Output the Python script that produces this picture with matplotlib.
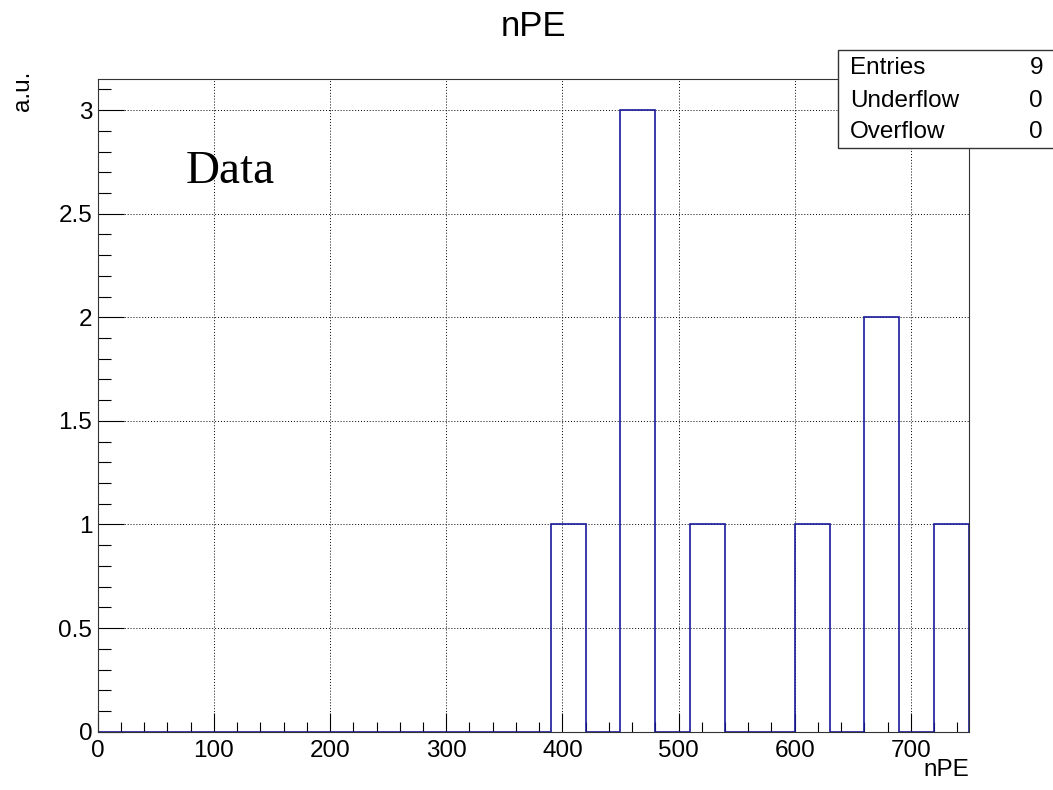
import numpy as np
import matplotlib
matplotlib.use("Agg")
import matplotlib.pyplot as plt
from matplotlib.ticker import MultipleLocator

# histogram content, 25 bins of width 30 from 0 to 750
x_min, x_max, bin_width = 0, 750, 30
counts = [0, 0, 0, 0, 0, 0, 0, 0, 0, 0, 0, 0, 0,
          1, 0, 3, 0, 1, 0, 0, 1, 0, 2, 0, 1]
stat_names = ["Entries", "Underflow", "Overflow"]
stat_values = [sum(counts), 0, 0]

edges = np.arange(x_min, x_max + 1, bin_width)

plt.rcParams["font.family"] = ["Liberation Sans", "DejaVu Sans"]

fig = plt.figure(figsize=(10.53, 7.9), dpi=100)
ax = fig.add_axes([0.0928, 0.0738, 0.8274, 0.8262])

ax.stairs(counts, edges, color="#1a1a9c", linewidth=1.2)

ax.set_xlim(x_min, x_max)
ax.set_ylim(0, 1.05 * max(counts))

ax.xaxis.set_major_locator(MultipleLocator(100))
ax.xaxis.set_minor_locator(MultipleLocator(20))
ax.yaxis.set_major_locator(MultipleLocator(0.5))
ax.yaxis.set_minor_locator(MultipleLocator(0.1))
ax.yaxis.set_major_formatter(lambda v, p: f"{v:g}")

ax.tick_params(axis="x", which="major", direction="in", length=13.7, width=0.8,
               labelsize=17.5, pad=6)
ax.tick_params(axis="x", which="minor", direction="in", length=6.9, width=0.8)
ax.tick_params(axis="y", which="major", direction="in", length=18.7, width=0.8,
               labelsize=17.5, pad=4)
ax.tick_params(axis="y", which="minor", direction="in", length=9.4, width=0.8)

for s in ax.spines.values():
    s.set_linewidth(0.8)
    s.set_color("#333333")

ax.grid(True, which="major", linestyle=(0, (1, 2)), color="black", linewidth=0.7)
ax.set_axisbelow(True)

fig.text(0.507, 0.967, "nPE", ha="center", va="center", fontsize=25)
fig.text(0.92, 0.025, "nPE", ha="right", va="center", fontsize=17.5)
fig.text(0.022, 0.91, "a.u.", ha="center", va="top", rotation=90, fontsize=17.5)

ax.text(0.101, 0.84, "Data", transform=ax.transAxes, family="Liberation Serif",
        fontsize=34, ha="left", va="baseline")

# stats box, running past the right edge of the canvas
box = plt.Rectangle((837.7 / 1053, 1 - 147.7 / 790), 0.3, 97.7 / 790,
                    transform=fig.transFigure, facecolor="white",
                    edgecolor="#333333", linewidth=1.0, zorder=5)
fig.patches.append(box)
row_y = [68, 101, 132]
for name, val, y in zip(stat_names, stat_values, row_y):
    fig.text(850 / 1053, 1 - y / 790, name, ha="left", va="center", fontsize=17.5, zorder=6)
    fig.text(1043 / 1053, 1 - y / 790, str(val), ha="right", va="center", fontsize=17.5, zorder=6)

fig.savefig("out.png", dpi=100)
